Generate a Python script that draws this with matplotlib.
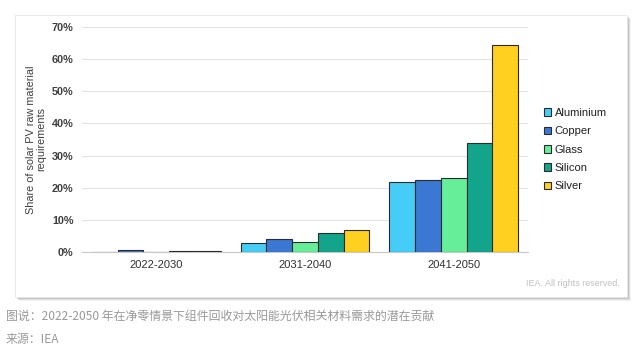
import matplotlib.pyplot as plt
import matplotlib.patches as mpatches
import numpy as np

plt.rcParams['font.family'] = ['Liberation Sans', 'DejaVu Sans']

periods = ['2022-2030', '2031-2040', '2041-2050']
materials = ['Aluminium', 'Copper', 'Glass', 'Silicon', 'Silver']
colors = ['#45cdf7', '#3a78d4', '#66ee99', '#12a58c', '#ffd020']

aluminium = [0.1, 2.8, 21.8]
copper = [0.5, 4.0, 22.4]
glass = [0.1, 3.0, 23.0]
silicon = [0.4, 5.8, 34.0]
silver = [0.4, 7.0, 64.5]
values = [aluminium, copper, glass, silicon, silver]

fig = plt.figure(figsize=(6.4, 3.56), dpi=100)
fig.patch.set_facecolor('white')

# card with soft shadow
for i, a in enumerate([0.05, 0.08, 0.12]):
    off = 0.006 - i * 0.0015
    fig.patches.append(mpatches.Rectangle((15/640 + off, 1 - 297/356 - off * 1.8), 612/640, 282/356,
                                          transform=fig.transFigure, facecolor='black', alpha=a,
                                          edgecolor='none', zorder=0))
fig.patches.append(mpatches.Rectangle((15/640, 1 - 297/356), 612/640, 282/356,
                                      transform=fig.transFigure, facecolor='white',
                                      edgecolor='#e6e6e6', linewidth=0.6, zorder=1))

ax = fig.add_axes([82/640, 1 - 252/356, 446/640, 225/356])
ax.set_zorder(2)
ax.patch.set_alpha(0)

x = np.arange(len(periods))
w = 0.173
for i, (m, v) in enumerate(zip(materials, values)):
    ax.bar(x + (i - 2) * w, v, w, color=colors[i], edgecolor='#2b2b2b', linewidth=0.8,
           label=m, zorder=3)

ax.set_xlim(-0.5, 2.5)
ax.set_ylim(0, 70)
ax.set_yticks(range(0, 71, 10))
ax.set_yticklabels([f'{t}%' for t in range(0, 71, 10)], fontsize=7.8, fontweight='bold', color='#404040')
ax.set_xticks(x)
ax.set_xticklabels(periods, fontsize=8, color='#303030')
ax.tick_params(length=0, pad=6)
ax.grid(axis='y', color='#e4e4e4', linewidth=0.8, zorder=0)
for s in ['top', 'right', 'left']:
    ax.spines[s].set_visible(False)
ax.spines['bottom'].set_color('#c8c8c8')
ax.set_ylabel('Share of solar PV raw material\nrequirements', fontsize=7.8, color='#404040',
              linespacing=1.0, labelpad=4)

leg = ax.legend(loc='center left', bbox_to_anchor=(1.025, 0.455), frameon=False, fontsize=8,
                handlelength=0.7, handleheight=0.7, handletextpad=0.3, labelspacing=0.75,
                borderaxespad=0)
for t in leg.get_texts():
    t.set_color('#202020')

fig.text(620/640, 1 - 284/356, 'IEA. All rights reserved.', ha='right', va='center',
         fontsize=6.5, color='#c0c0c0', zorder=3)

fig.text(6/640, 1 - 316/356, '图说：2022-2050 年在净零情景下组件回收对太阳能光伏相关材料需求的潜在贡献',
         family=['Noto Sans CJK SC', 'DejaVu Sans'], fontsize=8.6, color='#999999', va='center')
fig.text(6/640, 1 - 340/356, '来源：IEA', family=['Noto Sans CJK SC', 'DejaVu Sans'],
         fontsize=8.6, color='#999999', va='center')

fig.savefig('out.png', dpi=100)
